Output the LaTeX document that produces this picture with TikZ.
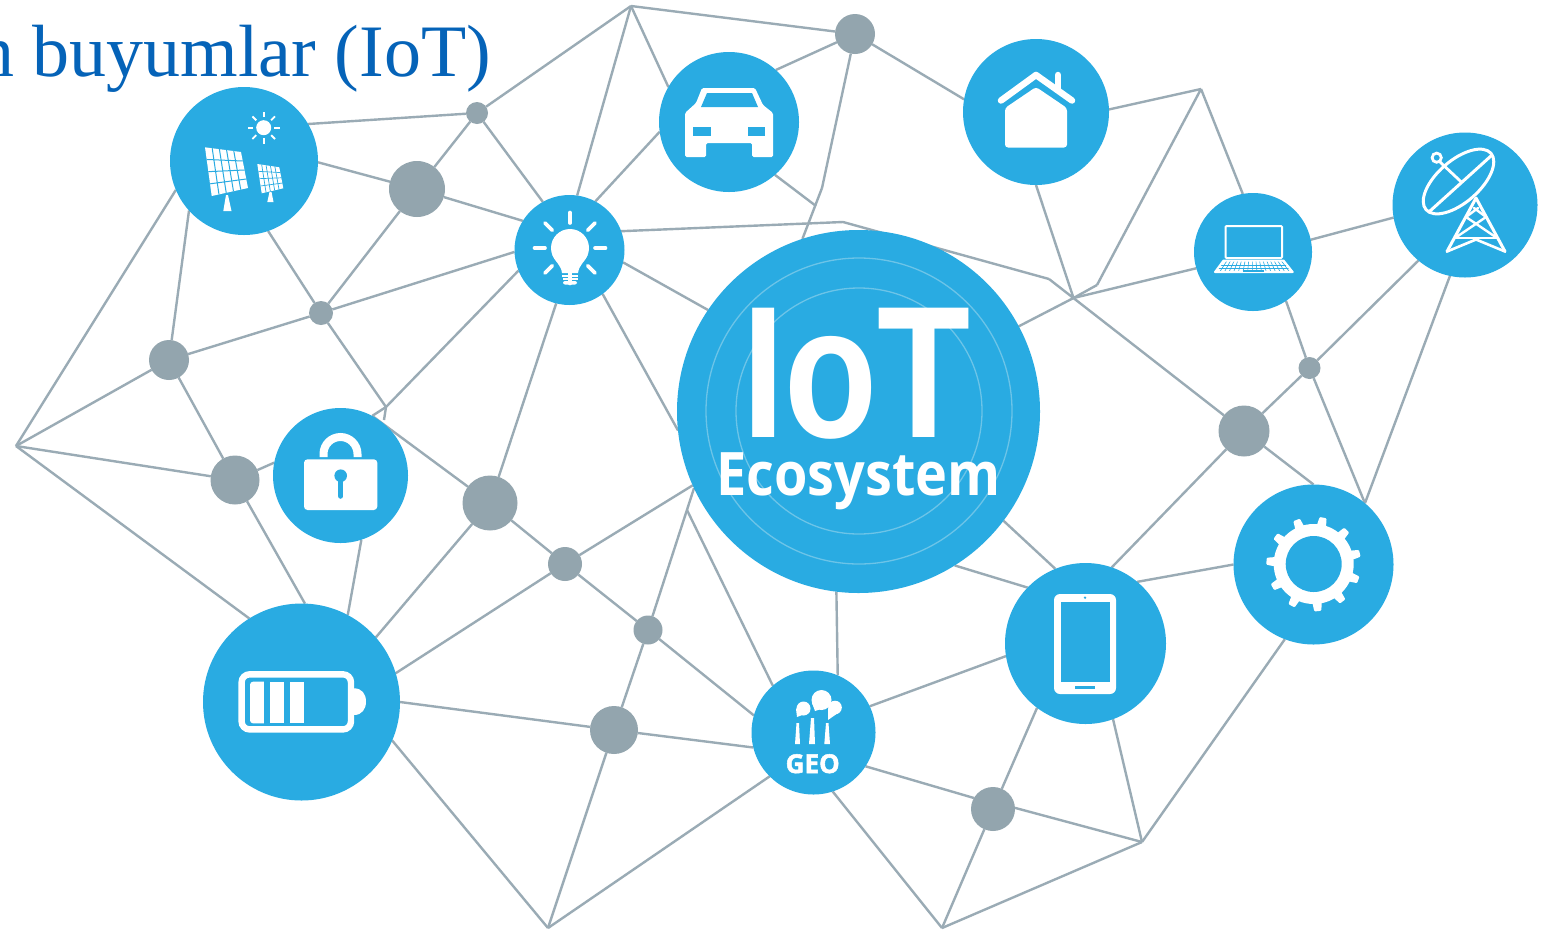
\documentclass[tikz,border=0pt]{standalone}
\usepackage{fontspec}
\setmainfont{Liberation Serif}
\newfontfamily\iotfont{Open Sans}
\newfontfamily\logofont{Liberation Sans}
\newfontfamily\geofont[BoldFeatures={FakeBold=2}]{Open Sans}
\usetikzlibrary{backgrounds,calc}
\definecolor{hubblue}{HTML}{29ABE2}
\definecolor{dotgrey}{HTML}{93A5AE}
\definecolor{linkgrey}{HTML}{9AABB5}
\definecolor{ringblue}{HTML}{6CC4E8}
\definecolor{titleblue}{HTML}{0563B8}
\tikzset{
  hub/.style={circle,fill=hubblue,inner sep=0pt,outer sep=0pt,minimum size=#1},
  dot/.style={circle,fill=dotgrey,inner sep=0pt,outer sep=0pt,minimum size=#1},
  link/.style={draw=linkgrey,line width=2.4pt,line join=round},
  ray/.style={white,line width=#1,line cap=round},
  ring/.style={draw=ringblue,line width=1.3pt}
}
\newcommand{\gridpanel}[7]{%
  \fill[white] (#1)--(#2)--(#3)--(#4)--cycle;
  \foreach \t in {#5} \draw[hubblue,line width=#7] ($(#1)!\t!(#2)$) -- ($(#4)!\t!(#3)$);
  \foreach \t in {#6} \draw[hubblue,line width=#7] ($(#1)!\t!(#4)$) -- ($(#2)!\t!(#3)$);
}
\begin{document}
\begin{tikzpicture}[x=1pt,y=-1pt]
\useasboundingbox (0,0) rectangle (1554,930);
\clip (0,0) rectangle (1554,930);
% hubs
\node[hub=148pt] (solar) at (244,161) {};
\node[hub=140pt] (car) at (729,122) {};
\node[hub=146pt] (home) at (1036,112) {};
\node[hub=118pt] (laptop) at (1253,252) {};
\node[hub=145pt] (dish) at (1465,205) {};
\node[hub=110pt] (bulb) at (569.5,250) {};
\node[hub=135pt] (lock) at (340.5,475.5) {};
\node[hub=197pt] (battery) at (301.5,702) {};
\node[hub=124pt] (geo) at (813.5,732.5) {};
\node[hub=161pt] (tablet) at (1085.5,643.5) {};
\node[hub=160pt] (gear) at (1313.5,564.5) {};
\node[hub=363pt] (iot) at (858.5,411.5) {};
% grey junctions
\node[dot=22pt] (g1) at (477,113) {};
\node[dot=56pt] (g2) at (417,189) {};
\node[dot=24pt] (g3) at (321,313) {};
\node[dot=40pt] (g4) at (169,360) {};
\node[dot=49pt] (g5) at (235,480) {};
\node[dot=55pt] (g6) at (490,503) {};
\node[dot=34pt] (g7) at (565,564) {};
\node[dot=29pt] (g8) at (648,630) {};
\node[dot=48pt] (g9) at (614,730) {};
\node[dot=44pt] (g10) at (993,809) {};
\node[dot=51pt] (g11) at (1244,431) {};
\node[dot=22pt] (g12) at (1309.5,368) {};
\node[dot=40pt] (g13) at (855,34) {};
% free ends
\coordinate (a) at (16,446);
\coordinate (b) at (631,6);
\coordinate (c) at (1201,89);
\coordinate (d) at (1073.5,298);
\coordinate (e) at (843,222);
\coordinate (f) at (1049,279);
\coordinate (h) at (386,407);
\coordinate (hs) at (384,420);
\coordinate (i) at (1097,285);
\coordinate (j) at (548,928);
\coordinate (k) at (942,928);
\coordinate (l) at (1142,842);
\coordinate (m) at (822,188);
\coordinate (mc) at (816,206);
\coordinate (n) at (687,510);
\begin{pgfonlayer}{background}
\fill[white] (0,0) rectangle (1554,930);
\foreach \p/\q in {
  a/solar.203, a/g4, a/g5, a/battery.122,
  solar.222/g4, solar.30/g1, solar.-1/g2, solar.289/g3,
  g1/g2, g2/g3, g1/b, g1/bulb.119, g2/bulb.148,
  b/bulb.82, b/g13, b/car.150,
  car.48/g13, car.188/bulb.62, car.-49/mc,
  g13/home.170, g13/m, m/iot.108,
  bulb.20/e, e/f, f/g11,
  bulb.-13/iot.146, bulb.-53/iot.186,
  bulb.182/g3, g3/g4, bulb.202/h, g3/h, h/lock.62, h/hs, lock.62/g6, bulb.256/g6,
  g4/g5, g5/battery.88, g5/lock.169, lock.288/battery.62,
  g6/battery.41, g6/g7, g7/battery.17.7, g7/iot.204, g7/g8,
  g8/geo.164, g8/iot.205.6, g8/g9,
  battery.0/g9, g9/geo.194, g9/j, j/battery.-23, j/geo.225,
  n/geo.131, iot.263/geo.67,
  geo.25/tablet.189, geo.-33/g10.150, geo.288/k, g10/k, k/l, g10.3/l, g10/tablet.233,
  tablet.290/l, l/gear.249,
  iot.-37.4/tablet.112, iot.-58/tablet.136,
  tablet.50/gear.180, tablet.71/g11, g11/gear.90, g11/g12,
  g12/dish.230, g12/laptop.-56, g12/gear.50, dish.258/gear.50,
  laptop.12/dish.190.5, laptop.196/d, d/iot.28, d/home.270, d/i, i/c, c/home.2, c/laptop.100
} \draw[link] (\p) -- (\q);
\end{pgfonlayer}
% title
\node[anchor=base west,inner sep=0pt,text=titleblue,font=\fontsize{74}{74}\selectfont] (title) at (-23,76) {n buyumlar (IoT)};
% centre
\draw[ring] (859,411) circle[radius=153];
\draw[ring] (859,411) circle[radius=123];
\node[anchor=base,inner sep=0pt,text=white,font=\logofont\bfseries\fontsize{188}{188}\selectfont] (iottext) at (856.5,437) {\scalebox{.81}[1]{IoT}};
\node[anchor=base,inner sep=0pt,text=white,font=\iotfont\bfseries\fontsize{60}{60}\selectfont] (ecotext) at (858.5,495) {\scalebox{.9}[1]{Ecosystem}};
% solar
\fill[white] (263.7,127.7) circle[radius=7.5];
\foreach \r in {0,45,...,315} \draw[ray=1.8pt,line cap=butt] ($(263.7,127.7)+(\r:10.5)$) -- ($(263.7,127.7)+(\r:16)$);
\gridpanel{205,147.3}{241,152}{248,188}{211.7,196}{.2,.4,.6,.8}{.25,.5,.75}{1pt}
\fill[white] (223.3,211) -- (231.5,211) -- (228,195) -- (226,195) -- cycle;
\gridpanel{257.3,164}{279.3,167.3}{283.3,188.3}{261.7,193.3}{.2,.4,.6,.8}{.25,.5,.75}{.7pt}
\fill[white] (267.3,202) -- (273.5,202) -- (271.5,192) -- (269.5,192) -- cycle;
% car
\fill[white,rounded corners=1.5pt] (702,88) -- (755,88) -- (763,105) -- (773,113) -- (773,157) -- (752,157) -- (752,143) -- (706,143) -- (706,157) -- (685,157) -- (685,113) -- (696,103) -- cycle;
\fill[hubblue] (707,93) -- (752,93) -- (758,107) -- (701,107) -- cycle;
\fill[hubblue] (693,127) rectangle (711,136);
\fill[hubblue] (748,127) rectangle (765,136);
% home
\draw[white,line width=6.5pt,line cap=round,line join=round] (1001,100.5) -- (1036,75) -- (1072,100.5);
\draw[white,line width=6.5pt,line cap=round] (1058,75) -- (1058,90);
\fill[white,rounded corners=3pt] (1005,108) -- (1036,87) -- (1067,108) -- (1067,147.5) -- (1005,147.5) -- cycle;
% laptop
\draw[white,line width=2pt,rounded corners=1pt] (1225.5,226) rectangle (1282,258);
\gridpanel{1223.5,260.5}{1283.5,260.5}{1292.7,272}{1215,272}{.06,.12,.18,.24,.30,.36,.42,.48,.54,.60,.66,.72,.78,.84,.90,.96}{.4,.7}{.6pt}
\draw[white,line width=2pt,line join=round] (1223.5,260.5) -- (1283.5,260.5) -- (1292.7,272) -- (1215,272) -- cycle;
\fill[hubblue] (1243,270) rectangle (1264,272);
% dish
\draw[white,line width=3pt,rotate around={41:(1458.5,181.5)}] (1458.5,181.5) ellipse[x radius=43,y radius=21];
\draw[white,line width=3pt,line cap=round] (1430,211) -- (1492,155);
\draw[white,line width=2.8pt] (1436.7,157.7) circle[radius=4.6];
\draw[white,line width=2.8pt,line cap=round] (1440,162) -- (1461,181.7);
\draw[white,line width=3pt,line join=round,line cap=round] (1447,251.5) -- (1476,198) -- (1505,251.5);
\draw[white,line width=2.6pt,line join=round,line cap=round] (1447,251.5) -- (1476,239.5) -- (1505,251.5);
\draw[white,line width=2.4pt,line cap=round] (1455,238) -- (1497,238);
\draw[white,line width=2.4pt,line cap=round] (1455,238) -- (1486,217) (1497,238) -- (1466,217) (1466,217) -- (1478,208) (1486,217) -- (1474,208);
% bulb
\fill[white] (570,248) circle[radius=19];
\fill[white] (552.5,255) .. controls (556,263) and (561,265) .. (562,273) -- (578,273) .. controls (579,265) and (584,263) .. (587.5,255) -- cycle;
\fill[white] (562,275) rectangle (578,277);
\fill[white] (562.5,278) rectangle (577.5,280);
\fill[white,rounded corners=2pt] (563,281) rectangle (577,284.5);
\foreach \r in {0,45,...,315} \draw[ray=3.6pt] ($(570,248)+(\r:25)$) -- ($(570,248)+(\r:35.5)$);
% lock
\draw[white,line width=8pt] (323.5,457) -- (323.5,454) arc[start angle=180,delta angle=180,radius=17] -- (357.5,457);
\fill[white,rounded corners=3.5pt] (304,459.3) rectangle (377.3,510);
\fill[hubblue] (340.7,475.7) circle[radius=6.3];
\draw[hubblue,line width=5.5pt,line cap=round] (340.7,477) -- (340.7,496);
% battery
\draw[white,line width=6.4pt,rounded corners=8pt] (241.6,674.3) rectangle (351,729.4);
\fill[white] (354,688.3) .. controls (362,688.3) and (366,694) .. (366,701.6) .. controls (366,709) and (362,715) .. (354,715) -- cycle;
\fill[white,rounded corners=3pt] (250,681.7) rectangle (268,723.3);
\fill[white] (258,681.7) rectangle (264.3,723.3);
\fill[hubblue] (264.3,680) rectangle (270,725);
\fill[white] (270,681.7) rectangle (283.5,723.3);
\fill[white] (290,681.7) rectangle (303.5,723.3);
% tablet
\fill[white,rounded corners=6pt] (1054,594) rectangle (1116,694);
\fill[hubblue] (1061,602) rectangle (1109.5,682);
\fill[hubblue] (1075,685.5) rectangle (1095,689);
\fill[hubblue] (1085,597.7) circle[radius=1.3];
% gear
\fill[white] (1313.7,564) circle[radius=40];
\foreach \r in {85,52.3,19.6,-13.1,-45.8,-78.5,-111.2,-143.9,-176.6,-209.3,-242} {
  \fill[white,rotate around={-\r:(1313.7,564)},rounded corners=1pt] (1350,559) -- (1361,560.5) -- (1361,567.5) -- (1350,569) -- cycle;
}
\fill[hubblue] (1313.7,564) circle[radius=28];
% geo
\fill[white] (795,744) -- (800,744) -- (799,723) -- (796.5,723) -- cycle;
\fill[white] (809,744) -- (815,744) -- (814,718) -- (811,718) -- cycle;
\fill[white] (824.3,744) -- (830,744) -- (828.5,723) -- (826,723) -- cycle;
\fill[white] (803.5,708.5) circle[radius=7];
\fill[white] (797,717) -- (796,709) -- (806,702) -- (810,712) -- cycle;
\fill[white] (821.5,700) circle[radius=10];
\fill[white] (815,711) -- (812,703) -- (826,694) -- (830,706) -- cycle;
\fill[white] (835,707.5) circle[radius=6.8];
\fill[white] (828,720) -- (828,708) -- (838,713) -- cycle;
\node[anchor=base,inner sep=0pt,text=white,font=\geofont\bfseries\fontsize{26}{26}\selectfont] (geotext) at (812.7,773) {GEO};
\end{tikzpicture}
\end{document}
